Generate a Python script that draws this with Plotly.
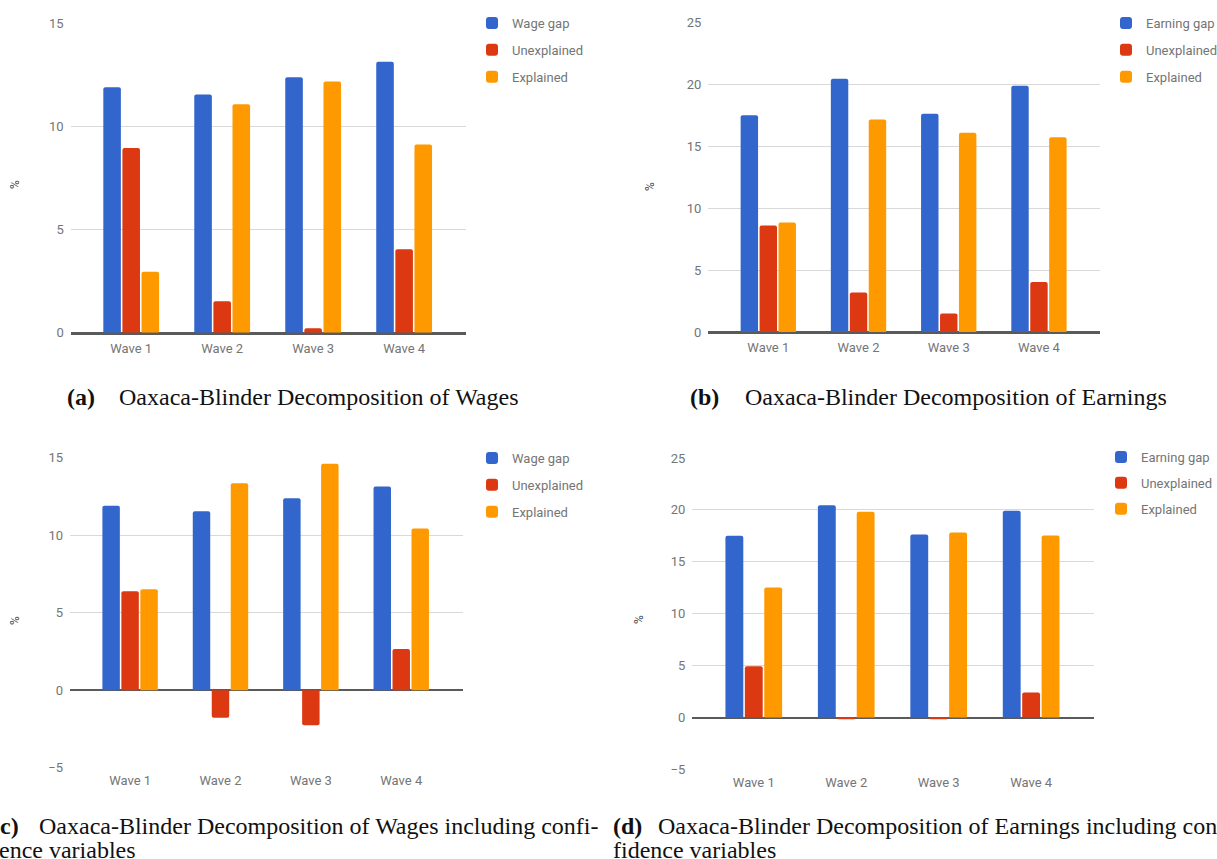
import plotly.graph_objects as go

# ---- data -------------------------------------------------------------
waves = ["Wave 1", "Wave 2", "Wave 3", "Wave 4"]

wage_gap = [11.9, 11.55, 12.38, 13.14]
wage_unexplained = [8.95, 1.52, 0.21, 4.05]
wage_explained = [2.95, 11.07, 12.18, 9.12]

earning_gap = [17.52, 20.46, 17.64, 19.91]
earning_unexplained = [8.6, 3.2, 1.5, 4.05]
earning_explained = [8.85, 17.18, 16.1, 15.75]

wage_conf_unexplained = [6.38, -1.78, -2.26, 2.66]
wage_conf_explained = [6.51, 13.35, 14.61, 10.44]

earning_conf_unexplained = [4.95, -0.15, -0.15, 2.41]
earning_conf_explained = [12.53, 19.83, 17.83, 17.54]

# ---- styling ----------------------------------------------------------
W, H = 1217, 859
BLUE, RED, ORANGE = "#3366CC", "#DC3912", "#FF9900"
GRAY_TXT = "#757575"
GRID = "#d9d9d9"
BASE = "#5a5a5a"
SERIF = "Liberation Serif"
SANS = "Roboto"


def px_x(x):
    return x / W


def px_y(y):
    return 1 - y / H


fig = go.Figure()

panels = [
    # (axis suffix, legend id, gap label, gap, unexplained, explained)
    ("", "legend", "Wage gap", wage_gap, wage_unexplained, wage_explained),
    ("2", "legend2", "Earning gap", earning_gap, earning_unexplained, earning_explained),
    ("3", "legend3", "Wage gap", wage_gap, wage_conf_unexplained, wage_conf_explained),
    ("4", "legend4", "Earning gap", earning_gap, earning_conf_unexplained, earning_conf_explained),
]

for suffix, leg, gap_name, gap, unexpl, expl in panels:
    for name, vals, color in [
        (gap_name, gap, BLUE),
        ("Unexplained", unexpl, RED),
        ("Explained", expl, ORANGE),
    ]:
        fig.add_trace(
            go.Bar(
                x=waves,
                y=vals,
                name=name,
                marker=dict(color=color, line=dict(width=0), cornerradius=2),
                xaxis="x" + suffix,
                yaxis="y" + suffix,
                legend=leg,
                legendgroup=leg + name,
                hoverinfo="x+y+name",
            )
        )

# plot areas in pixel coordinates: (x0, x1, y_top, y_bottom, ymin, ymax)
areas = {
    "": (70.7, 466.0, 23.3, 332.7, 0, 15),
    "2": (708.3, 1100.3, 22.7, 332.0, 0, 25),
    "3": (70.0, 462.7, 457.7, 767.7, -5, 15),
    "4": (692.3, 1094.0, 458.0, 769.5, -5, 25),
}

layout = dict(
    width=W,
    height=H,
    margin=dict(l=0, r=0, t=0, b=0, autoexpand=False),
    paper_bgcolor="white",
    plot_bgcolor="white",
    barmode="group",
    bargap=0.37,
    bargroupgap=0.08,
    font=dict(family=SANS, color=GRAY_TXT, size=13),
)

for suffix, (x0, x1, yt, yb, ymin, ymax) in areas.items():
    xa = "xaxis" + suffix
    ya = "yaxis" + suffix
    layout[xa] = dict(
        domain=[px_x(x0), px_x(x1)],
        anchor="y" + suffix,
        type="category",
        range=[-0.665, 3.68],
        showgrid=False,
        zeroline=False,
        showline=(ymin == 0),
        linecolor=BASE,
        linewidth=1.5,
        ticks="",
        tickfont=dict(family=SANS, size=13, color=GRAY_TXT),
        ticklabelstandoff=3,
        automargin=False,
        fixedrange=True,
    )
    layout[ya] = dict(
        domain=[px_y(yb), px_y(yt)],
        anchor="x" + suffix,
        range=[ymin, ymax],
        dtick=5,
        tick0=0,
        showgrid=True,
        gridcolor=GRID,
        gridwidth=1,
        zeroline=True,
        zerolinecolor=BASE,
        zerolinewidth=1.5,
        showline=False,
        ticks="",
        tickfont=dict(family=SANS, size=13, color=GRAY_TXT),
        ticklabelstandoff=6,
        automargin=False,
        fixedrange=True,
    )

# legends to the right of each chart: (left px, top px, gap between items)
legend_pos = {
    "legend": (472, 8, 7),
    "legend2": (1106, 8, 7),
    "legend3": (472, 443, 7),
    "legend4": (1101, 442, 6),
}
for leg, (lx, ly, gap) in legend_pos.items():
    layout[leg] = dict(
        x=px_x(lx),
        y=px_y(ly),
        xanchor="left",
        yanchor="top",
        bgcolor="rgba(0,0,0,0)",
        font=dict(family=SANS, size=13, color=GRAY_TXT),
        traceorder="grouped",
        tracegroupgap=gap,
        itemclick=False,
        itemdoubleclick=False,
    )

annotations = []

# rotated "%" axis titles
for x, y in [(15, 185), (650, 187), (15, 621), (639, 620)]:
    annotations.append(
        dict(
            text="%",
            x=px_x(x),
            y=px_y(y),
            xref="paper",
            yref="paper",
            showarrow=False,
            textangle=-90,
            font=dict(family=SANS, size=12, color="#444444"),
            xanchor="center",
            yanchor="middle",
        )
    )


def caption(text, x, y, anchor="left", bold=False):
    annotations.append(
        dict(
            text=f"<b>{text}</b>" if bold else text,
            x=px_x(x),
            y=px_y(y),
            xref="paper",
            yref="paper",
            showarrow=False,
            xanchor=anchor,
            yanchor="middle",
            font=dict(family=SERIF, size=24, color="#111111"),
        )
    )


caption("(a)", 65, 397, bold=True)
caption("Oaxaca-Blinder Decomposition of Wages", 116.5, 397)
caption("(b)", 688, 397, bold=True)
caption("Oaxaca-Blinder Decomposition of Earnings", 742.5, 397)
caption("(c)", 21, 826, anchor="right", bold=True)
caption("Oaxaca-Blinder Decomposition of Wages including confi-", 37, 826)
caption("dence variables", 138, 850, anchor="right")
caption("(d)", 611.5, 826, bold=True)
caption("Oaxaca-Blinder Decomposition of Earnings including con-", 655.5, 826)
caption("fidence variables", 611.5, 850)

layout["annotations"] = annotations
fig.update_layout(**layout)

fig.write_html("out.html", config={"displayModeBar": False})
